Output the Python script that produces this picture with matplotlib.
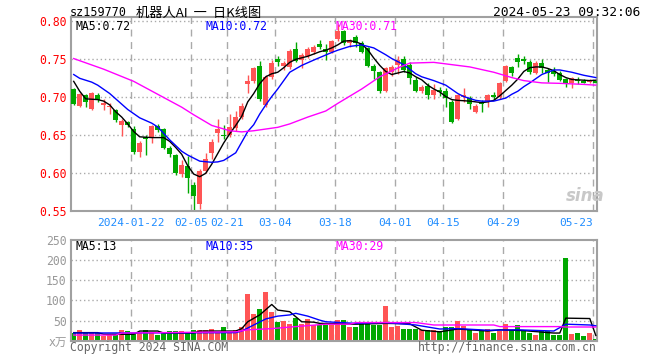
import matplotlib
matplotlib.use('Agg')
import matplotlib.pyplot as plt
import numpy as np

# 日K数据 2024-01-08 ~ 2024-05-23 (sz159770 机器人AI)
opens = [.7105, .6885, .703, .6842, .7034, .6895, .6877, .6829, .6635, .6675,
         .6587, .6284, .6474, .646, .6622, .6583, .633, .624, .599, .6096,
         .5845, .5597, .6034, .627, .6534, .6504, .650, .6592, .6745, .7171,
         .722, .7416, .6895, .7263, .7508, .7416, .7395, .764, .7495, .7547,
         .7592, .7705, .764, .7592, .7767, .7876, .7714, .779, .7719, .7645,
         .7408, .7333, .7079, .7333, .7421, .7508, .7429, .7224, .7087, .7153,
         .703, .7096, .7087, .6942, .6711, .7008, .6995, .6811, .6921, .6955,
         .703, .700, .7218, .7395, .7513, .750, .7461, .7324, .7455, .7359,
         .7346, .7324, .7237, .7184, .7228, .7218, .7197, .7218]
highs = [.712, .706, .7043, .7074, .706, .6974, .692, .685, .6711, .6692,
         .6622, .6425, .650, .664, .6645, .6596, .636, .6254, .6175, .6228,
         .588, .6053, .6263, .6451, .6711, .6635, .6776, .682, .6925, .7293,
         .740, .7474, .729, .749, .754, .7478, .7636, .7724, .7583, .7662,
         .7688, .7754, .7705, .7754, .7964, .789, .7767, .782, .774, .7662,
         .7438, .7346, .7403, .7421, .7543, .7543, .7465, .7267, .7162, .7188,
         .7175, .714, .7122, .6964, .7043, .7126, .7017, .6912, .6964, .7043,
         .7066, .7201, .7425, .7412, .757, .7543, .7491, .7478, .7504, .7386,
         .7403, .7346, .7254, .7267, .7263, .7241, .7241, .7228]
lows = [.690, .6877, .6868, .683, .6942, .683, .678, .668, .649, .6613,
        .625, .622, .6245, .640, .654, .6316, .622, .598, .5947, .5737,
        .5495, .5526, .6004, .6188, .6416, .6455, .6482, .656, .6718, .706,
        .719, .6947, .6872, .724, .7412, .7364, .7372, .7465, .7386, .7517,
        .757, .7636, .7487, .7579, .7741, .7688, .7666, .7666, .7583, .7399,
        .7241, .7053, .707, .728, .7313, .7333, .7175, .707, .7057, .6978,
        .6974, .7017, .6876, .6658, .670, .6942, .6842, .6789, .6811, .6877,
        .6964, .6978, .7201, .728, .7403, .7438, .7307, .7307, .7316, .7205,
        .728, .7221, .714, .7118, .7171, .7182, .7188, .7175]
closes = [.6912, .7043, .6942, .706, .6964, .6921, .6886, .670, .669, .6632,
          .6284, .6395, .6455, .6622, .657, .6329, .625, .601, .611, .5934,
          .570, .603, .6188, .6416, .6587, .6491, .6613, .6737, .689, .7214,
          .7385, .6977, .7263, .7451, .7461, .7451, .7605, .7482, .756, .7636,
          .7658, .7658, .7592, .7737, .7876, .7714, .7758, .7719, .7592, .7408,
          .7342, .7079, .7386, .7395, .7495, .7363, .7254, .7087, .7132, .7034,
          .7096, .7074, .6987, .6679, .703, .703, .6912, .689, .6908, .703,
          .700, .7184, .7412, .7316, .7469, .7478, .7337, .7455, .7382, .7324,
          .7307, .7228, .7184, .7258, .7214, .7184, .7228, .7184]
# 成交量 (万)
volumes = [20, 26, 18, 20, 20, 12, 15, 15, 26, 24,
           20, 20, 26, 22, 15, 20, 24, 24, 24, 20,
           26, 26, 26, 30, 22, 35, 22, 26, 35, 115,
           66, 79, 122, 72, 47, 50, 41, 57, 41, 54,
           40, 40, 40, 40, 51, 51, 34, 34, 45, 45,
           40, 40, 86, 34, 36, 28, 30, 28, 26, 26,
           26, 24, 34, 34, 49, 36, 28, 19, 26, 28,
           19, 24, 42, 26, 40, 26, 19, 15, 26, 24,
           15, 15, 206, 17, 19, 11, 20, 4]

# 均线 (从图上读取, 序号: 值)
ma5_idx = [0, 1, 2, 4, 5, 6, 7, 8, 9, 10, 11, 13, 15, 16, 17, 18, 19, 20, 21,
           22, 23, 24, 25, 26, 27, 28, 29, 30, 31, 32, 33, 34, 35, 36, 37, 38,
           39, 40, 41, 42, 43, 44, 45, 46, 47, 48, 49, 50, 51, 52, 53, 54, 55,
           56, 57, 58, 59, 60, 61, 62, 63, 64, 65, 66, 67, 68, 69, 70, 71, 72,
           73, 74, 75, 76, 77, 78, 79, 80, 81, 82, 83, 84, 85, 86, 87]
ma5_val = [.721, .708, .698, .697, .695, .690, .681, .674, .665, .655, .648,
           .647, .647, .642, .634, .625, .610, .599, .5955, .600, .612, .626,
           .640, .652, .663, .675, .694, .705, .718, .727, .731, .733, .739,
           .746, .750, .752, .754, .757, .760, .762, .765, .769, .774, .7745,
           .773, .770, .7626, .7517, .742, .734, .730, .732, .734, .732, .727,
           .723, .716, .711, .707, .701, .697, .696, .6955, .695, .694, .693,
           .694, .696, .702, .709, .716, .724, .734, .739, .740, .740, .738,
           .735, .730, .726, .7235, .723, .7225, .722, .7225]
ma10_idx = [0, 1, 3, 4, 6, 8, 9, 11, 13, 14, 16, 18, 19, 21, 23, 24, 25, 27,
            29, 30, 31, 32, 33, 34, 36, 38, 40, 43, 44, 46, 48, 50, 52, 53, 55,
            57, 58, 60, 62, 64, 65, 67, 68, 70, 72, 73, 74, 75, 76, 78, 80, 81,
            83, 85, 87]
ma10_val = [.730, .725, .720, .716, .705, .691, .684, .673, .666, .661, .644,
            .629, .624, .616, .6145, .615, .617, .627, .655, .664, .678, .690,
            .701, .711, .733, .742, .749, .759, .762, .767, .769, .765, .756,
            .751, .743, .731, .727, .722, .716, .705, .701, .696, .695, .695,
            .699, .704, .708, .714, .719, .730, .736, .736, .733, .729, .726]
ma30_idx = [0, 5, 10, 14, 18, 20, 23, 26, 28, 30, 34, 36, 39, 42, 44, 48, 51,
            54, 56, 60, 63, 66, 70, 73, 75, 78, 81, 85, 87]
ma30_val = [.751, .737, .721, .704, .687, .677, .663, .656, .6545, .656, .6605,
            .665, .674, .682, .692, .711, .727, .7386, .745, .746, .743, .740,
            .733, .726, .722, .719, .7184, .717, .716]

vma5_idx = [0, 4, 5, 10, 11, 14, 15, 20, 21, 27, 28, 29, 31, 33, 34, 36, 38,
            40, 41, 47, 52, 56, 58, 61, 64, 69, 71, 75, 80, 81, 82, 86, 87]
vma5_val = [20, 20, 16, 16, 24, 24, 19, 19, 24, 24, 30, 47, 64, 90, 76, 72, 47,
            46, 43, 41, 43, 42, 26, 22, 29, 24, 27, 25, 19, 19, 56, 55, 13]
vma10_idx = [0, 27, 28, 30, 32, 34, 36, 37, 39, 41, 42, 47, 52, 57, 61, 64, 69,
             74, 80, 82, 86, 87]
vma10_val = [19, 20, 24, 39, 54, 61, 64, 68, 61, 51, 47, 43, 45, 39, 29, 30, 26,
             27, 24, 41, 39, 37]
vma30_idx = [0, 7, 8, 27, 29, 33, 37, 42, 46, 47, 57, 58, 60, 70, 71, 81, 82, 87]
vma30_val = [14, 14, 19, 22, 27, 30, 35, 41, 41, 45, 45, 43, 39, 39, 35, 35, 34, 34]

date_idx = [10, 20, 26, 34, 44, 54, 62, 72, 87]
date_labels = ['2024-01-22', '02-05', '02-21', '03-04', '03-18',
               '04-01', '04-15', '04-29', '05-23']
price_ticks = [0.55, 0.60, 0.65, 0.70, 0.75, 0.80]
vol_ticks = [0, 50, 100, 150, 200, 250]
vol_tick_labels = ['x万', '50', '100', '150', '200', '250']

UP = '#FF5555'
DOWN = '#00A800'
GRID = '#AAAAAA'
FRAME = '#A0A0A0'
MONO = ['DejaVu Sans Mono', 'Noto Sans CJK SC']
CJK = ['Noto Sans CJK SC', 'DejaVu Sans']

W, H = 660, 360


def box(x0, y0, x1, y1):
    return [x0 / W, 1 - y1 / H, (x1 - x0) / W, (y1 - y0) / H]


def ftext(x, y, s, **kw):
    fig.text(x / W, 1 - y / H, s, va='center', **kw)


fig = plt.figure(figsize=(6.6, 3.6), dpi=100)
ax = fig.add_axes(box(70.7, 17, 597, 211.3))
axv = fig.add_axes(box(70.7, 240, 597, 340.7))

x = np.arange(len(closes))
o = np.array(opens)
c = np.array(closes)
colors = np.where(c >= o, UP, DOWN)

# 网格
for a in (ax, axv):
    for d in date_idx:
        a.axvline(d - 0.5, color=GRID, ls=(0, (5, 4)), lw=1, zorder=0)
for p in price_ticks[1:]:
    ax.axhline(p, color=GRID, ls=(0, (1, 2)), lw=1, zorder=0)
for v in vol_ticks[1:-1]:
    axv.axhline(v, color=GRID, ls=(0, (1, 2)), lw=1, zorder=0)

# K线
ax.vlines(x, lows, highs, colors=colors, lw=1, zorder=2)
ax.bar(x, np.maximum(np.abs(c - o), 0.0008), bottom=np.minimum(o, c),
       width=0.8, color=colors, lw=0, zorder=3)
ax.plot(ma5_idx, ma5_val, color='black', lw=1, zorder=4)
ax.plot(ma10_idx, ma10_val, color='#0000FF', lw=1, zorder=4)
ax.plot(ma30_idx, ma30_val, color='#FF00FF', lw=1, zorder=4)

# 成交量
axv.bar(x, volumes, width=0.8, color=colors, lw=0, zorder=2)
axv.plot(vma5_idx, vma5_val, color='black', lw=1, zorder=4)
axv.plot(vma10_idx, vma10_val, color='#0000FF', lw=1, zorder=4)
axv.plot(vma30_idx, vma30_val, color='#FF00FF', lw=1, zorder=4)

ax.set_xlim(-0.5, 87.2)
ax.set_ylim(0.55, 0.8057)
axv.set_xlim(-0.5, 87.2)
axv.set_ylim(0, 250)

ax.set_yticks(price_ticks)
ax.set_yticklabels(['%.2f' % p for p in price_ticks], color='#FF0000',
                   family=MONO, fontsize=8.3)
ax.set_xticks([d - 0.5 for d in date_idx])
ax.set_xticklabels(date_labels, color='#1E8CFF', family=MONO, fontsize=8)
ax.get_xticklabels()[-1].set_ha('right')
ax.tick_params(length=0, pad=3)
ax.tick_params(axis='x', pad=5)

axv.set_yticks(vol_ticks)
axv.set_yticklabels(vol_tick_labels, color='#999999', family=MONO, fontsize=8.3)
axv.set_xticks([])
axv.tick_params(length=0, pad=3)

for a in (ax, axv):
    for s in a.spines.values():
        s.set_color(FRAME)
        s.set_linewidth(1.5)

# 标题与图例
ftext(70, 13, 'sz159770', family=MONO, fontsize=8.5)
ftext(136, 13, '机器人AI  一  日K线图', family=CJK, fontsize=9.5)
ftext(640, 13, '2024-05-23 09:32:06', family=MONO, fontsize=9.3, ha='right')
ftext(75, 27, 'MA5:0.72', family=MONO, fontsize=8.3, color='black')
ftext(205, 27, 'MA10:0.72', family=MONO, fontsize=8.3, color='#0000FF')
ftext(335, 27, 'MA30:0.71', family=MONO, fontsize=8.3, color='#FF00FF')
ftext(75, 247, 'MA5:13', family=MONO, fontsize=8.3, color='black')
ftext(205, 247, 'MA10:35', family=MONO, fontsize=8.3, color='#0000FF')
ftext(335, 247, 'MA30:29', family=MONO, fontsize=8.3, color='#FF00FF')
ftext(70, 348, 'Copyright 2024 SINA.COM', family=MONO, fontsize=8.3,
      color='#666666')
ftext(597, 348, 'http://finance.sina.com.cn', family=MONO, fontsize=8.3,
      color='#666666', ha='right')
ftext(566, 196, 'sina', fontsize=12, color='#C8C8C8', style='italic',
      weight='bold')

fig.savefig('out.png', dpi=100)
